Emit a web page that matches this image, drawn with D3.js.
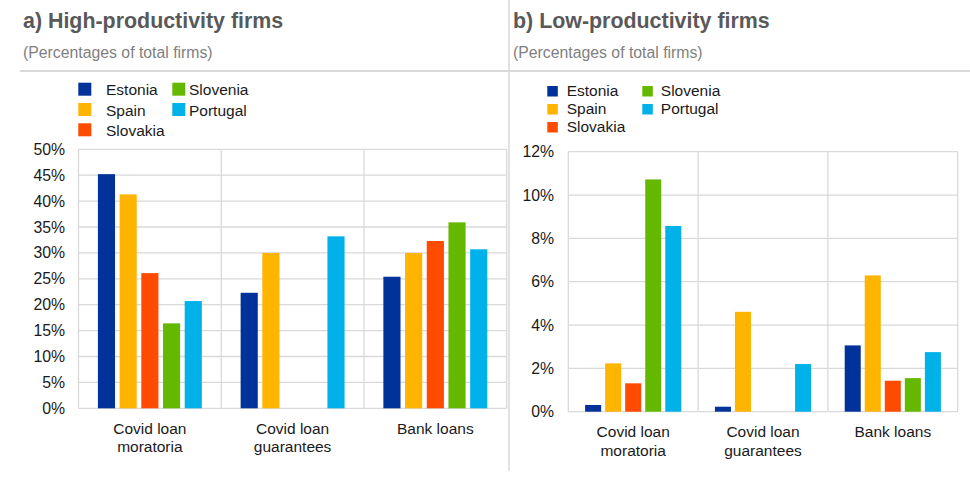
<!DOCTYPE html>
<html>
<head>
<meta charset="utf-8">
<script src="https://cdn.jsdelivr.net/npm/d3@7"></script>
<style>
  body { margin: 0; background: #fff; }
  svg { display: block; font-family: "Liberation Sans", Arial, sans-serif; }
</style>
</head>
<body>
<svg id="chart" width="970" height="483"></svg>
<script>
// data
var categories = [["Covid loan", "moratoria"], ["Covid loan", "guarantees"], ["Bank loans"]];
var countries = ["Estonia", "Spain", "Slovakia", "Slovenia", "Portugal"];
var colors = ["#003299", "#ffb400", "#ff4b00", "#65b800", "#00b1ea"];

// values per country, in category order (percent)
var highProd = [
  [45.2, 22.3, 25.4],   // Estonia
  [41.3, 30.0, 30.0],   // Spain
  [26.1, 0, 32.3],      // Slovakia
  [16.4, 0, 35.9],      // Slovenia
  [20.7, 33.2, 30.7]    // Portugal
];
var lowProd = [
  [0.31, 0.23, 3.06],
  [2.23, 4.61, 6.29],
  [1.31, 0, 1.43],
  [10.72, 0, 1.55],
  [8.57, 2.2, 2.75]
];
var highTicks = [0, 5, 10, 15, 20, 25, 30, 35, 40, 45, 50];
var lowTicks = [0, 2, 4, 6, 8, 10, 12];

var svg = d3.select("#chart");
svg.append("rect").attr("width", 970).attr("height", 483).attr("fill", "#fff");

// frame lines
svg.append("line").attr("x1", 20).attr("x2", 970).attr("y1", 71).attr("y2", 71)
  .attr("stroke", "#d9d9d9").attr("stroke-width", 2);
svg.append("line").attr("x1", 509).attr("x2", 509).attr("y1", 0).attr("y2", 471)
  .attr("stroke", "#d9d9d9").attr("stroke-width", 1.5);

function drawPanel(opt) {
  var g = svg.append("g");

  g.append("text").attr("x", opt.tx).attr("y", 28)
    .attr("font-size", 21.4).attr("font-weight", "bold").attr("fill", "#595959")
    .text(opt.title);
  g.append("text").attr("x", opt.tx).attr("y", 58)
    .attr("font-size", 15.8).attr("fill", "#7f7f7f")
    .text("(Percentages of total firms)");

  var x0 = d3.scaleBand().domain(d3.range(categories.length))
    .range([opt.left, opt.right]);
  var x1 = d3.scaleBand().domain(d3.range(countries.length))
    .range([opt.pad, x0.bandwidth() - opt.pad]).paddingInner(opt.inner);
  var y = d3.scaleLinear().domain([0, opt.max]).range([opt.bottom, opt.top]);

  // gridlines
  g.append("g").selectAll("line").data(opt.ticks).join("line")
    .attr("x1", opt.left).attr("x2", opt.right)
    .attr("y1", d => y(d)).attr("y2", d => y(d))
    .attr("stroke", "#d9d9d9").attr("stroke-width", 1.3);
  g.append("g").selectAll("line").data(d3.range(categories.length + 1)).join("line")
    .attr("x1", d => opt.left + d * x0.bandwidth()).attr("x2", d => opt.left + d * x0.bandwidth())
    .attr("y1", opt.top).attr("y2", opt.bottom)
    .attr("stroke", "#d9d9d9").attr("stroke-width", 1.3);

  // y axis labels
  var yAxis = d3.axisLeft(y).tickValues(opt.ticks).tickSize(0).tickPadding(0)
    .tickFormat(d => d + "%");
  g.append("g").attr("transform", "translate(" + opt.labelX + ",0)").call(yAxis)
    .call(a => a.select(".domain").remove())
    .selectAll("text").attr("font-size", 15.8).attr("fill", "#1a1a1a")
    .attr("font-family", "Liberation Sans, Arial, sans-serif");

  // bars
  countries.forEach(function(c, i) {
    g.append("g").selectAll("rect").data(opt.values[i]).join("rect")
      .attr("x", (d, j) => x0(j) + x1(i))
      .attr("width", x1.bandwidth())
      .attr("y", d => y(d))
      .attr("height", d => y(0) - y(d))
      .attr("fill", colors[i]);
  });

  // category labels
  categories.forEach(function(lines, j) {
    var t = g.append("text").attr("text-anchor", "middle")
      .attr("font-size", 15.5).attr("fill", "#1a1a1a");
    lines.forEach(function(s, k) {
      t.append("tspan").attr("x", x0(j) + x0.bandwidth() / 2)
        .attr("y", opt.catY + k * opt.catStep).text(s);
    });
  });

  // legend
  var leg = g.append("g");
  countries.forEach(function(c, i) {
    var col = i < 3 ? 0 : 1, row = i < 3 ? i : i - 3;
    var lx = opt.legX[col], ly = opt.legY + row * opt.legStep;
    leg.append("rect").attr("x", lx).attr("y", ly)
      .attr("width", opt.sw).attr("height", opt.sw).attr("fill", colors[i]);
    leg.append("text").attr("x", lx + opt.legText[col]).attr("y", ly + opt.sw - 0.5)
      .attr("font-size", 15.5).attr("fill", "#1a1a1a").text(c);
  });
}

drawPanel({
  title: "a) High-productivity firms", tx: 23,
  values: highProd, max: 50, ticks: highTicks,
  left: 78.5, right: 506.7, top: 149.3, bottom: 408.3,
  pad: 19.4, inner: 0.21, labelX: 65,
  catY: 434, catStep: 17.5,
  legX: [78.3, 172.3], legY: 82.7, legStep: 20.3, sw: 13, legText: [27.7, 16.7]
});

drawPanel({
  title: "b) Low-productivity firms", tx: 513,
  values: lowProd, max: 12, ticks: lowTicks,
  left: 568.3, right: 957.7, top: 151.7, bottom: 411.7,
  pad: 16.8, inner: 0.2, labelX: 554,
  catY: 437, catStep: 19,
  legX: [547.3, 642.3], legY: 86, legStep: 18, sw: 10.5, legText: [19.4, 18.5]
});
</script>
</body>
</html>
